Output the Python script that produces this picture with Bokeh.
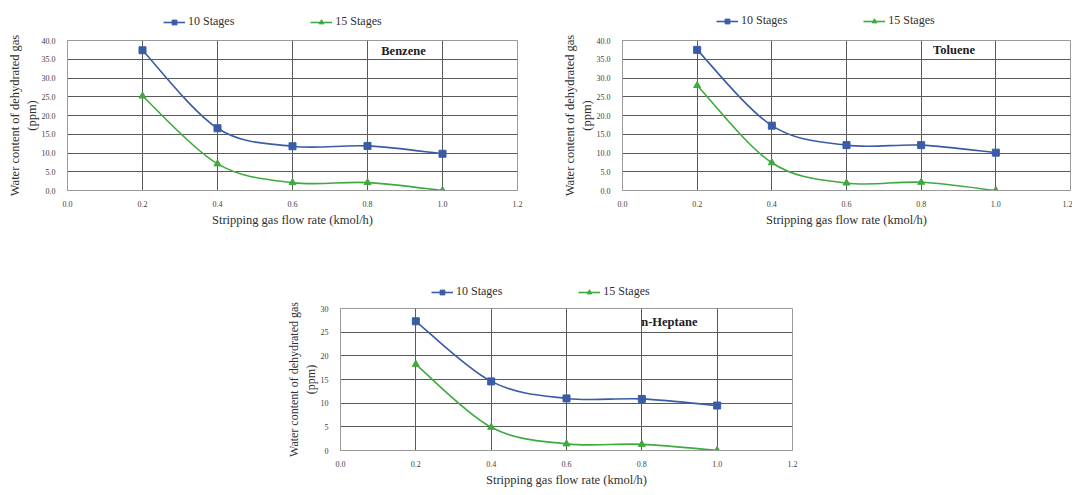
from bokeh.plotting import figure
from bokeh.layouts import column, row
from bokeh.models import Legend, LegendItem, Label, FixedTicker, PrintfTickFormatter, ColumnDataSource
from bokeh.embed import file_html
from bokeh.resources import INLINE

# ---------------- data ----------------
flow_rate = [0.2, 0.4, 0.6, 0.8, 1.0]
benzene_10 = [37.4, 16.6, 11.8, 11.9, 9.8]
benzene_15 = [25.2, 7.1, 2.1, 2.1, 0.0]
toluene_10 = [37.5, 17.3, 12.1, 12.1, 10.1]
toluene_15 = [28.0, 7.4, 2.0, 2.2, 0.0]
heptane_10 = [27.3, 14.6, 11.0, 10.9, 9.5]
heptane_15 = [18.2, 4.9, 1.4, 1.3, 0.0]
series_names = ["10 Stages", "15 Stages"]
x_ticks = [0.0, 0.2, 0.4, 0.6, 0.8, 1.0, 1.2]
y_ticks_40 = [0, 5, 10, 15, 20, 25, 30, 35, 40]
y_ticks_30 = [0, 5, 10, 15, 20, 25, 30]

FONT = "Liberation Serif"
BLUE = "#3A5CA6"
GREEN = "#3FAA3F"


def bezier_source(xs, ys):
    n = len(xs)
    d = dict(x0=[], y0=[], x1=[], y1=[], cx0=[], cy0=[], cx1=[], cy1=[])
    for i in range(n - 1):
        a = i - 1 if i > 0 else i
        b = i + 2 if i + 2 < n else i + 1
        d["x0"].append(xs[i]); d["y0"].append(ys[i])
        d["x1"].append(xs[i + 1]); d["y1"].append(ys[i + 1])
        d["cx0"].append(xs[i] + (xs[i + 1] - xs[a]) / 6)
        d["cy0"].append(ys[i] + (ys[i + 1] - ys[a]) / 6)
        d["cx1"].append(xs[i + 1] - (xs[b] - xs[i]) / 6)
        d["cy1"].append(ys[i + 1] - (ys[b] - ys[i]) / 6)
    return ColumnDataSource(d)


def make_legend_fig(width, height, bl, br, leg_x, leg_y, s10, s15):
    """A strip above a chart that only carries the series legend.
    Its renderers hold the series but are hidden; only the legend keys show."""
    p = figure(width=width, height=height, x_range=(0, 1), y_range=(0, 1),
               output_backend="svg", toolbar_location=None,
               min_border_left=bl, min_border_right=br,
               min_border_top=0, min_border_bottom=0)
    p.axis.visible = False
    p.grid.visible = False
    p.outline_line_color = None
    l1 = p.line(flow_rate, s10, line_color=BLUE, line_width=1.6, visible=False)
    m1 = p.scatter(flow_rate, s10, marker="square", size=7, fill_color=BLUE,
                   line_color=BLUE, visible=False)
    l2 = p.line(flow_rate, s15, line_color=GREEN, line_width=1.6, visible=False)
    m2 = p.scatter(flow_rate, s15, marker="triangle", size=7, fill_color=GREEN,
                   line_color=GREEN, visible=False)
    legend = Legend(items=[LegendItem(label=series_names[0], renderers=[l1, m1]),
                           LegendItem(label=series_names[1], renderers=[l2, m2])],
                    orientation="horizontal", location=(leg_x, leg_y),
                    border_line_color=None, background_fill_alpha=0,
                    inactive_fill_alpha=0,
                    label_text_font=FONT, label_text_font_size="12px",
                    label_text_color="#303030", glyph_width=22, glyph_height=12,
                    label_standoff=3, spacing=76, padding=2, margin=0,
                    label_height=12)
    p.add_layout(legend)
    return p


def make_fig(width, height, bl, br, bt, bb, ymax, yticks, yfmt, s10, s15,
             name, lx, ly, ylab_size):
    p = figure(width=width, height=height, x_range=(0, 1.2), y_range=(0, ymax),
               output_backend="svg", toolbar_location=None,
               min_border_left=bl, min_border_right=br,
               min_border_top=bt, min_border_bottom=bb)
    p.outline_line_color = "#9a9a9a"
    p.background_fill_color = "white"
    p.border_fill_color = "white"
    for ax in (p.xaxis[0], p.yaxis[0]):
        ax.axis_line_color = "#9a9a9a"
        ax.major_tick_line_color = None
        ax.minor_tick_line_color = None
        ax.major_label_text_font = FONT
        ax.major_label_text_font_size = "8px"
        ax.major_label_text_color = "#404040"
        ax.axis_label_text_font = FONT
        ax.axis_label_text_font_size = "12.5px"
        ax.axis_label_text_font_style = "normal"
        ax.axis_label_text_color = "#303030"
    p.yaxis.axis_label_text_font_size = ylab_size
    p.xaxis.ticker = FixedTicker(ticks=x_ticks)
    p.xaxis.formatter = PrintfTickFormatter(format="%.1f")
    p.yaxis.ticker = FixedTicker(ticks=yticks)
    p.yaxis.formatter = PrintfTickFormatter(format=yfmt)
    p.xaxis.major_label_standoff = 4
    p.yaxis.major_label_standoff = 6
    p.xaxis.axis_label = "Stripping gas flow rate (kmol/h)"
    p.xaxis.axis_label_standoff = 3
    p.yaxis.axis_label = "Water content of dehydrated gas\n(ppm)"
    p.yaxis.axis_label_standoff = 0
    p.xgrid.ticker = FixedTicker(ticks=x_ticks)
    p.ygrid.ticker = FixedTicker(ticks=yticks)
    for g in (p.xgrid[0], p.ygrid[0]):
        g.grid_line_color = "#5a5a5a"
        g.grid_line_width = 1

    p.bezier(x0="x0", y0="y0", x1="x1", y1="y1", cx0="cx0", cy0="cy0",
             cx1="cx1", cy1="cy1", source=bezier_source(flow_rate, s10),
             line_color=BLUE, line_width=1.6)
    p.scatter(flow_rate, s10, marker="square", size=7, fill_color=BLUE,
              line_color=BLUE)
    p.bezier(x0="x0", y0="y0", x1="x1", y1="y1", cx0="cx0", cy0="cy0",
             cx1="cx1", cy1="cy1", source=bezier_source(flow_rate, s15),
             line_color=GREEN, line_width=1.6)
    p.scatter(flow_rate, s15, marker="triangle", size=7, fill_color=GREEN,
              line_color=GREEN)

    p.add_layout(Label(x=lx, y=ly, text=name, text_font=FONT,
                       text_font_style="bold", text_font_size="12.5px",
                       text_align="center", text_baseline="middle",
                       text_color="#202020"))
    return p


leg1 = make_legend_fig(540, 32, 67, 23, 96, 3, benzene_10, benzene_15)
leg2 = make_legend_fig(532, 32, 82, 2, 94, 4, toluene_10, toluene_15)
f1 = make_fig(540, 201, 67, 23, 8, 43, 40, y_ticks_40, "%.1f",
              benzene_10, benzene_15, "Benzene", 0.896, 37.3, "12.5px")
f2 = make_fig(532, 201, 82, 2, 6, 43, 40, y_ticks_40, "%.1f",
              toluene_10, toluene_15, "Toluene", 0.888, 37.4, "12.5px")
leg3 = make_legend_fig(800, 66, 340, 8, 91, 0, heptane_10, heptane_15)
f3 = make_fig(800, 190, 340, 8, 9, 32, 30, y_ticks_30, "%d",
              heptane_10, heptane_15, "n-Heptane", 0.873, 27.1, "12px")

layout = column(row(leg1, leg2), row(f1, f2), leg3, f3)
open("out.html", "w").write(file_html(layout, INLINE))
